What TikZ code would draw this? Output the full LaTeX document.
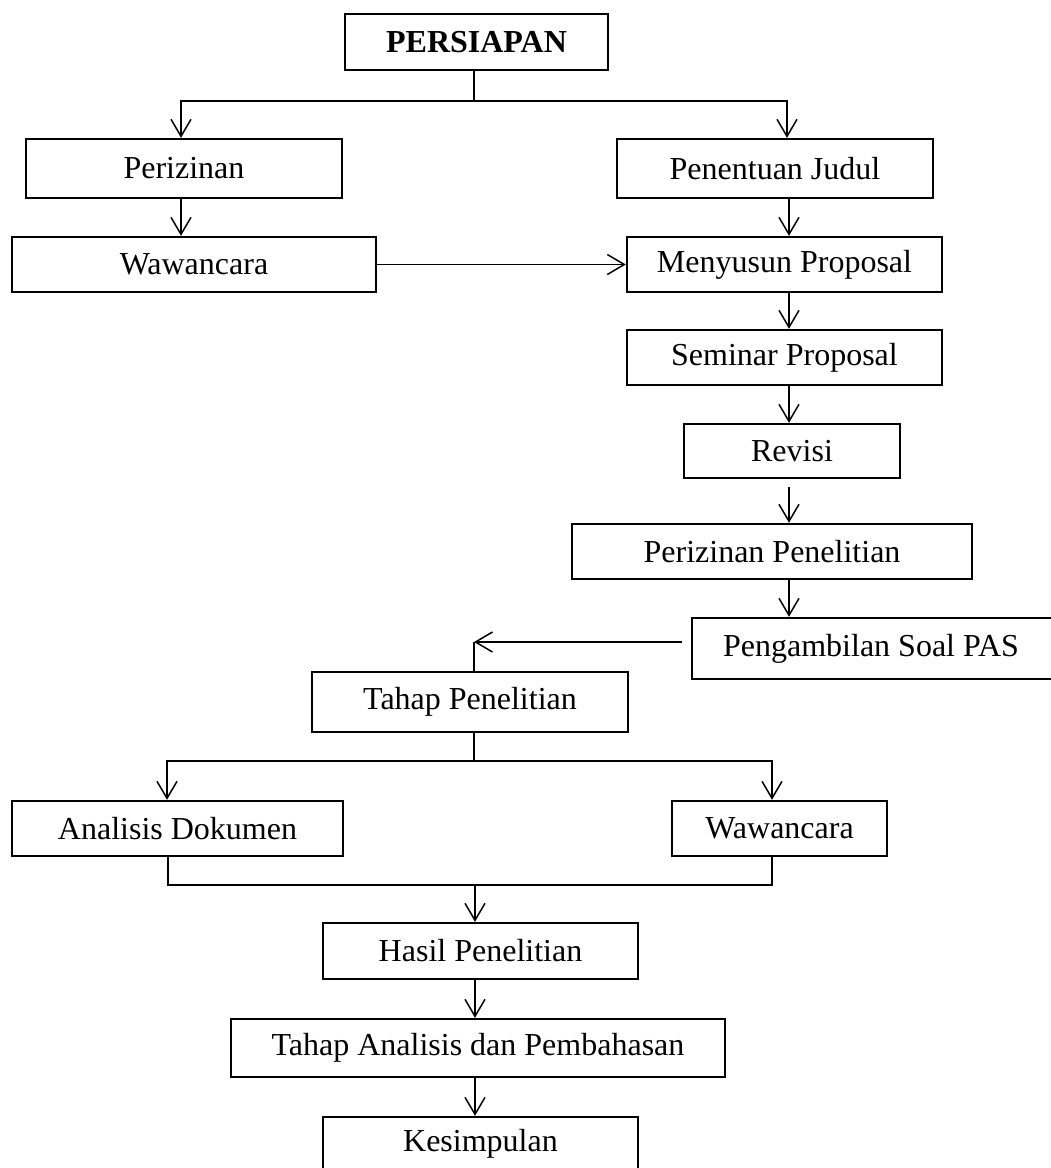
\documentclass[tikz,border=0pt]{standalone}
\usepackage{fontspec}
\setmainfont{Liberation Serif}
\usetikzlibrary{arrows.meta,calc}
\begin{document}
\begin{tikzpicture}[x=1pt,y=-1pt,
  box/.style={draw,line width=2.4pt,inner sep=0pt,font=\fontsize{32}{38}\selectfont},
  conn/.style={line width=1.5pt},
  arr/.style={conn,-{Straight Barb[length=17pt,width=20pt,line width=1.5pt]}}]
\useasboundingbox (0,0) rectangle (1051,1168);
% boxes
\node[box,minimum width=263pt,minimum height=56pt,font=\fontsize{32}{38}\selectfont\bfseries] (persiapan) at (476.5,42) {PERSIAPAN};
\node[box,minimum width=316pt,minimum height=59pt] (perizinan) at (184,168.5) {Perizinan};
\node[box,minimum width=316pt,minimum height=59pt] (judul) at (775,168.5) {Penentuan Judul};
\node[box,minimum width=364pt,minimum height=55pt] (wawL) at (194,264.5) {Wawancara};
\node[box,minimum width=315pt,minimum height=55pt] (menyusun) at (784.5,264.5) {Menyusun Proposal};
\node[box,minimum width=315pt,minimum height=55pt] (seminar) at (784.5,357.5) {Seminar Proposal};
\node[box,minimum width=216pt,minimum height=54pt] (revisi) at (792,451) {Revisi};
\node[box,minimum width=400pt,minimum height=55pt] (perpen) at (772,551.5) {Perizinan Penelitian};
\node[box,minimum width=362pt,minimum height=61pt] (pengambilan) at (873,648.5) {\hspace*{-4pt}Pengambilan Soal PAS};
\node[box,minimum width=316pt,minimum height=60pt] (tahappen) at (470,702) {Tahap Penelitian};
\node[box,minimum width=331pt,minimum height=55pt] (analisis) at (177.5,828.5) {Analisis Dokumen};
\node[box,minimum width=215pt,minimum height=55pt] (wawR) at (779.5,828.5) {Wawancara};
\node[box,minimum width=315pt,minimum height=56pt] (hasil) at (480.5,951) {Hasil Penelitian};
\node[box,minimum width=494pt,minimum height=58pt] (tahapan) at (478,1048) {Tahap Analisis dan Pembahasan};
\node[box,minimum width=315pt,minimum height=53pt] (kesimpulan) at (480.5,1143.5) {Kesimpulan};
% column coordinates
\coordinate (cL) at (181,0);
\coordinate (cR) at (787,0);
\coordinate (cM) at (474,0);
\coordinate (cA) at (168,0);
\coordinate (cW) at (772,0);
\coordinate (cB) at (475,0);
% connectors
\coordinate (s1) at ($(persiapan.south -| cM)+(0,30)$);
\draw[conn] (persiapan.south -| cM) -- (s1);
\draw[arr] (s1) -| (perizinan.north -| cL);
\draw[arr] (s1) -| (judul.north -| cR);
\draw[arr] (perizinan.south -| cL) -- (wawL.north -| cL);
\draw[arr] ([xshift=2pt]judul.south -| cR) -- ([xshift=2pt]menyusun.north -| cR);
\draw[arr] (wawL.east) -- (menyusun.west);
\draw[arr] ([xshift=2pt]menyusun.south -| cR) -- ([xshift=2pt]seminar.north -| cR);
\draw[arr] ([xshift=2pt]seminar.south -| cR) -- ([xshift=2pt]revisi.north -| cR);
\draw[arr] ($([xshift=2pt]revisi.south -| cR)+(0,8)$) -- ([xshift=2pt]perpen.north -| cR);
\draw[arr] ([xshift=2pt]perpen.south -| cR) -- ([xshift=2pt]pengambilan.north -| cR);
\coordinate (k1) at ($(pengambilan.west -| cM)+(0,-6.5)$);
\draw[arr] ($(pengambilan.west)+(-9,-6.5)$) -- (k1);
\draw[conn] (k1) -- (tahappen.north -| cM);
\coordinate (s2) at ($(tahappen.south -| cM)+(0,28)$);
\draw[conn] (tahappen.south -| cM) -- (s2);
\draw[arr] (s2) -| ([xshift=-1pt]analisis.north -| cA);
\draw[arr] (s2) -| (wawR.north -| cW);
\coordinate (s3) at ($(analisis.south -| cA)+(0,28)$);
\draw[conn] (analisis.south -| cA) -- (s3) -- (s3 -| cW) -- (wawR.south -| cW);
\draw[arr] (s3 -| cB) -- (hasil.north -| cB);
\draw[arr] (hasil.south -| cB) -- (tahapan.north -| cB);
\draw[arr] (tahapan.south -| cB) -- (kesimpulan.north -| cB);
\end{tikzpicture}
\end{document}
